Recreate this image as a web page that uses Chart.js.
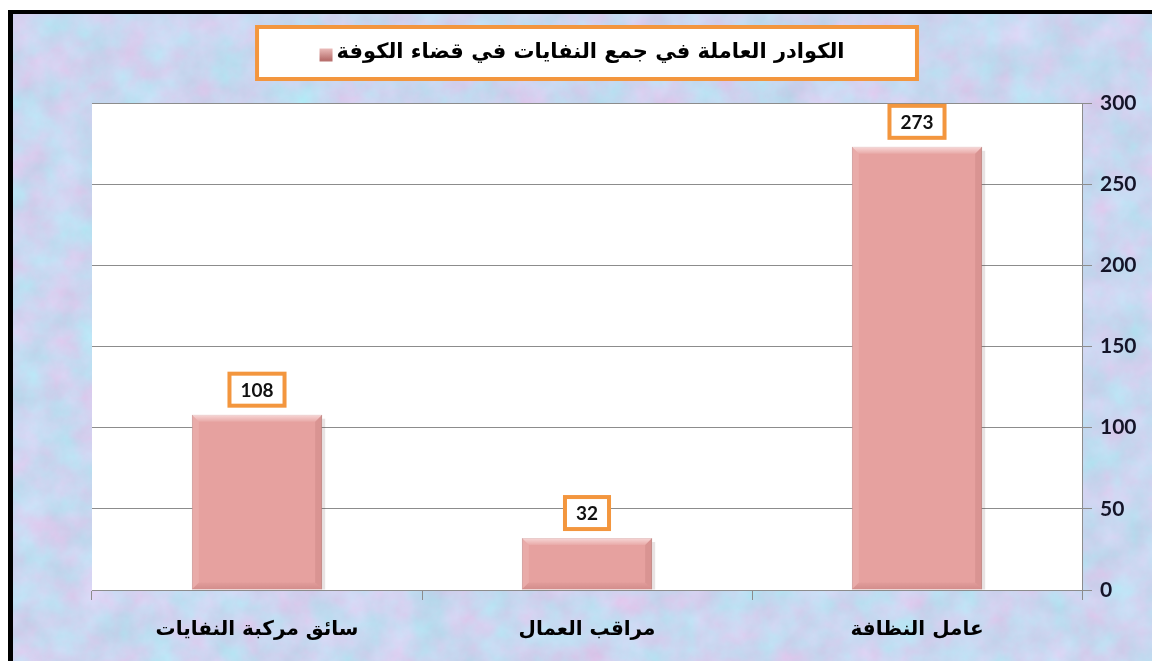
<!DOCTYPE html>
<html>
<head>
<meta charset="utf-8">
<script src="https://cdn.jsdelivr.net/npm/chart.js@4.4.1/dist/chart.umd.min.js"></script>
<style>
  html, body { margin: 0; padding: 0; background: #fff; }
  body { width: 1152px; height: 661px; position: relative; overflow: hidden; }
  #frame {
    position: absolute; left: 8px; top: 10px; width: 1160px; height: 670px;
    border-left: 5px solid #000; border-top: 4px solid #000;
    background: #c4d8f2; overflow: hidden;
  }
  #frame svg { position: absolute; left: 0; top: 0; }
  #wrap { position: absolute; left: 13px; top: 14px; width: 1139px; height: 647px; }
</style>
</head>
<body>
<div id="frame">
  <svg width="1160" height="670">
    <filter id="paper" color-interpolation-filters="sRGB">
      <feTurbulence type="fractalNoise" baseFrequency="0.03" numOctaves="5" seed="11"/>
      <feColorMatrix type="matrix" values="0.22 0 0 0 0.68  -0.1 0.12 0 0 0.83  0 0.08 0 0 0.9  0 0 0 0 1"/>
    </filter>
    <rect width="100%" height="100%" filter="url(#paper)"/>
  </svg>
</div>
<div id="wrap"><canvas id="chart"></canvas></div>
<script>
// data
const categories = ['عامل النظافة', 'مراقب العمال', 'سائق مركبة النفايات'];
const workers = [273, 32, 108];
const seriesLabel = 'الكوادر العاملة في جمع النفايات في قضاء الكوفة';
const yMin = 0, yMax = 300, yStep = 50;

const barColor = '#e6a19f';
const orange = '#f3963e';
const arabicFont = '"DejaVu Sans", sans-serif';
const numFont = 'Lato, "Open Sans", sans-serif';

// white plot area
const plotBg = {
  id: 'plotBg',
  beforeDraw(chart) {
    const { ctx, chartArea: a } = chart;
    ctx.save();
    ctx.fillStyle = '#fff';
    ctx.fillRect(a.left, a.top, a.right - a.left, a.bottom - a.top);
    ctx.restore();
  }
};

// bevel look on bars
const bevel = {
  id: 'bevel',
  afterDatasetsDraw(chart) {
    const ctx = chart.ctx;
    chart.getDatasetMeta(0).data.forEach(function (el) {
      const p = el.getProps(['x', 'y', 'base', 'width'], true);
      const l = p.x - p.width / 2, r = p.x + p.width / 2, t = p.y, b = p.base;
      const s = 7;
      function poly(pts, color) {
        ctx.beginPath();
        ctx.moveTo(pts[0][0], pts[0][1]);
        for (let i = 1; i < pts.length; i++) ctx.lineTo(pts[i][0], pts[i][1]);
        ctx.closePath();
        ctx.fillStyle = color;
        ctx.fill();
      }
      ctx.save();
      // shadow on right
      ctx.fillStyle = 'rgba(90,60,60,0.14)';
      ctx.fillRect(r, t + 4, 3, b - t - 4);
      const gt = ctx.createLinearGradient(0, t, 0, t + s);
      gt.addColorStop(0, 'rgba(255,240,240,0.7)');
      gt.addColorStop(1, 'rgba(255,240,240,0.1)');
      poly([[l, t], [r, t], [r - s, t + s], [l + s, t + s]], gt);
      poly([[l, t], [l + s, t + s], [l + s, b - s], [l, b]], 'rgba(255,225,225,0.15)');
      poly([[r, t], [r - s, t + s], [r - s, b - s], [r, b]], 'rgba(140,70,70,0.14)');
      const gb = ctx.createLinearGradient(0, b - s, 0, b);
      gb.addColorStop(0, 'rgba(140,70,70,0.05)');
      gb.addColorStop(1, 'rgba(140,70,70,0.22)');
      poly([[l, b], [l + s, b - s], [r - s, b - s], [r, b]], gb);
      ctx.restore();
    });
  }
};

// value boxes above bars
const valueBoxes = {
  id: 'valueBoxes',
  afterDatasetsDraw(chart) {
    const ctx = chart.ctx;
    const ds = chart.data.datasets[0];
    chart.getDatasetMeta(0).data.forEach(function (el, i) {
      const txt = String(ds.data[i]);
      ctx.save();
      ctx.font = 'bold 19px ' + numFont;
      const w = ctx.measureText(txt).width + 22;
      const h = 32;
      const cx = el.x, bottom = el.y - 9;
      ctx.fillStyle = '#fff';
      ctx.fillRect(cx - w / 2, bottom - h, w, h);
      ctx.lineWidth = 4;
      ctx.strokeStyle = orange;
      ctx.strokeRect(cx - w / 2, bottom - h, w, h);
      ctx.fillStyle = '#111';
      ctx.textAlign = 'center';
      ctx.textBaseline = 'middle';
      ctx.fillText(txt, cx, bottom - h / 2 + 1);
      ctx.restore();
    });
  }
};

// legend in an orange box
const legendBox = {
  id: 'legendBox',
  afterDraw(chart) {
    const ctx = chart.ctx;
    const a = chart.chartArea;
    const label = chart.data.datasets[0].label;
    ctx.save();
    ctx.font = 'bold 21px ' + arabicFont;
    const tw = ctx.measureText(label).width;
    const mk = 13, gap = 4;
    const content = mk + gap + tw;
    const cx = (a.left + a.right) / 2;
    const boxW = content + 135, boxH = 52, boxTop = 13;
    ctx.fillStyle = '#fff';
    ctx.fillRect(cx - boxW / 2, boxTop, boxW, boxH);
    ctx.lineWidth = 4;
    ctx.strokeStyle = orange;
    ctx.strokeRect(cx - boxW / 2, boxTop, boxW, boxH);
    const sx = cx - content / 2 - 5;
    const my = boxTop + boxH / 2;
    const g = ctx.createLinearGradient(0, my - mk / 2, 0, my + mk / 2);
    g.addColorStop(0, '#f3c9c7');
    g.addColorStop(1, '#b9716f');
    ctx.fillStyle = g;
    ctx.fillRect(sx, my - mk / 2 + 2, mk, mk);
    ctx.fillStyle = '#000';
    ctx.textAlign = 'left';
    ctx.textBaseline = 'middle';
    ctx.fillText(label, sx + mk + gap, my);
    ctx.restore();
  }
};

new Chart(document.getElementById('chart'), {
  type: 'bar',
  data: {
    labels: categories,
    datasets: [{
      label: seriesLabel,
      data: workers,
      backgroundColor: barColor,
      borderColor: '#c08583',
      borderWidth: 1,
      categoryPercentage: 1,
      barPercentage: 0.395
    }]
  },
  options: {
    responsive: true,
    maintainAspectRatio: false,
    animation: false,
    layout: { padding: { left: 79, top: 89, right: 0, bottom: 0 } },
    plugins: {
      legend: { display: false },
      tooltip: { enabled: false }
    },
    scales: {
      x: {
        reverse: true,
        offset: true,
        grid: {
          offset: true,
          drawOnChartArea: false,
          drawTicks: true,
          tickLength: 10,
          color: '#8c8c8c'
        },
        border: { color: '#8c8c8c' },
        ticks: {
          color: '#000',
          padding: 18,
          font: { family: arabicFont, size: 20, weight: 'bold' }
        },
        afterFit(scale) { scale.height = 71; }
      },
      y: {
        position: 'right',
        min: yMin,
        max: yMax,
        ticks: {
          stepSize: yStep,
          color: '#141428',
          padding: 8,
          font: { family: numFont, size: 21, weight: 'bold' }
        },
        grid: { color: '#8c8c8c', tickLength: 10 },
        border: { color: '#8c8c8c' },
        afterFit(scale) { scale.width = 70; }
      }
    }
  },
  plugins: [plotBg, bevel, valueBoxes, legendBox]
});
</script>
</body>
</html>
